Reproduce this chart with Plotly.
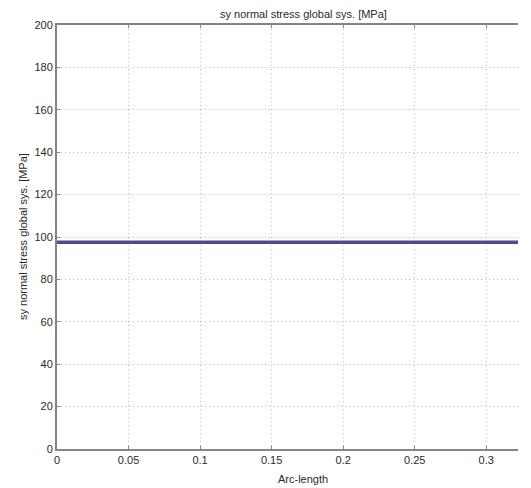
import plotly.graph_objects as go

arc_length = [0.0, 0.3222]
sy_stress = [97.5, 97.5]
x_ticks = [0, 0.05, 0.1, 0.15, 0.2, 0.25, 0.3]
x_tick_labels = ["0", "0.05", "0.1", "0.15", "0.2", "0.25", "0.3"]
y_ticks = [0, 20, 40, 60, 80, 100, 120, 140, 160, 180, 200]

title_text = "sy normal stress global sys. [MPa]"
x_title = "Arc-length"
y_title = "sy normal stress global sys. [MPa]"

FONT = "Liberation Sans, Arial, sans-serif"
AXIS_COLOR = "#858585"
GRID_COLOR = "#bdbdbd"
GRID_DASH = "1px,3px"
TEXT_COLOR = "#2a2a2a"

fig = go.Figure()
fig.add_trace(go.Scatter(
    x=arc_length, y=sy_stress, mode="lines",
    line=dict(color="#4b4b8e", width=3.5),
    showlegend=False, hoverinfo="x+y",
))
# invisible trace to host the top axis
fig.add_trace(go.Scatter(
    x=arc_length, y=sy_stress, mode="lines", xaxis="x2",
    line=dict(color="rgba(0,0,0,0)", width=0),
    showlegend=False, hoverinfo="skip",
))

fig.update_layout(
    width=531, height=488,
    margin=dict(l=57, r=13, t=25, b=39),
    paper_bgcolor="white", plot_bgcolor="white",
    font=dict(family=FONT, size=11, color=TEXT_COLOR),
    xaxis=dict(
        range=[0, arc_length[-1]],
        tickvals=x_ticks, ticktext=x_tick_labels,
        showgrid=True, gridcolor=GRID_COLOR, griddash=GRID_DASH, gridwidth=1,
        showline=True, linecolor=AXIS_COLOR, linewidth=2,
        ticks="inside", ticklen=3, tickcolor=AXIS_COLOR,
        zeroline=False,
        tickfont=dict(family=FONT, size=11, color=TEXT_COLOR),
    ),
    xaxis2=dict(
        range=[0, arc_length[-1]], overlaying="x", side="top",
        tickvals=x_ticks, showticklabels=False,
        showgrid=False, zeroline=False,
        showline=True, linecolor=AXIS_COLOR, linewidth=2,
        ticks="inside", ticklen=3, tickcolor=AXIS_COLOR,
    ),
    yaxis=dict(
        range=[0, 200],
        tickvals=y_ticks,
        showgrid=True, gridcolor=GRID_COLOR, griddash=GRID_DASH, gridwidth=1,
        showline=True, linecolor=AXIS_COLOR, linewidth=2,
        ticks="inside", ticklen=3, tickcolor=AXIS_COLOR,
        zeroline=False,
        tickfont=dict(family=FONT, size=11, color=TEXT_COLOR),
    ),
    annotations=[
        dict(text=title_text, xref="paper", yref="paper", x=0.534, y=1,
             yshift=11, xanchor="center", yanchor="middle", showarrow=False,
             font=dict(family=FONT, size=11, color=TEXT_COLOR)),
        dict(text=x_title, xref="paper", yref="paper", x=0.534, y=0,
             yshift=-30, xanchor="center", yanchor="middle", showarrow=False,
             font=dict(family=FONT, size=11, color=TEXT_COLOR)),
        dict(text=y_title, xref="paper", yref="paper", x=0, y=0.5,
             xshift=-34, textangle=-90, xanchor="center", yanchor="middle",
             showarrow=False,
             font=dict(family=FONT, size=11, color=TEXT_COLOR)),
    ],
)

fig.write_html(
    "out.html",
    config={"displayModeBar": False},
    post_script="document.body.style.margin='0';document.body.style.padding='0';",
)
